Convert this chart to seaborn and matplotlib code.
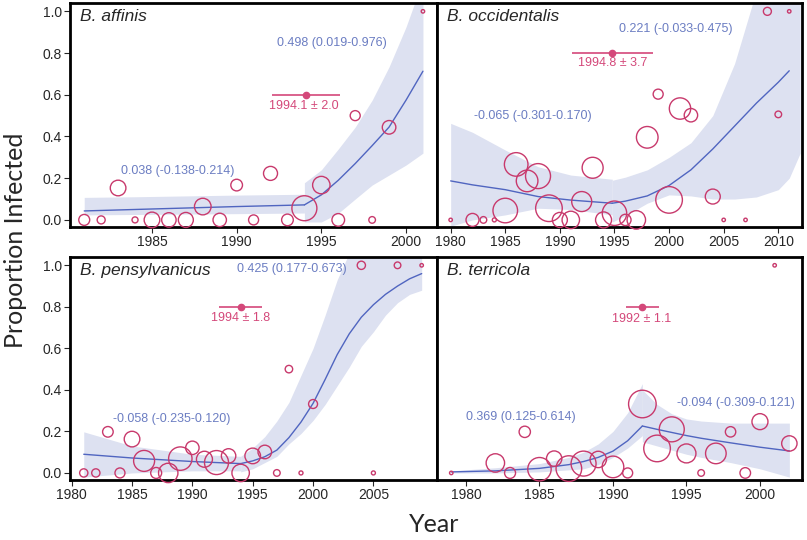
import matplotlib
matplotlib.use("Agg")
import matplotlib.pyplot as plt
import seaborn as sns
import pandas as pd

sns.set_style("ticks")
plt.rcParams['font.family'] = ['Liberation Sans', 'DejaVu Sans']

PINK = "#c8396c"
PINK_TXT = "#d4487a"
BLUE = "#5065c0"
BLUE_TXT = "#6b7dc2"
BAND = "#dde1f1"

# ---------------- B. affinis ----------------
aff_year = [1981, 1982, 1983, 1984, 1985, 1986, 1987, 1988, 1989, 1990, 1991, 1992, 1993,
            1994, 1995, 1996, 1997, 1998, 1999, 2001]
aff_prop = [0, 0, 0.153, 0, 0, 0, 0, 0.064, 0, 0.167, 0, 0.223, 0, 0.056, 0.167, 0, 0.5, 0,
            0.444, 1.0]
aff_n = [30, 16, 61, 9, 61, 52, 56, 69, 45, 34, 25, 49, 34, 156, 76, 40, 25, 11, 46, 3]
aff_l1_x = [1981, 1984, 1987, 1990, 1994]
aff_l1_y = [0.043, 0.050, 0.057, 0.064, 0.072]
aff_b1_lo = [0.024, 0.026, 0.028, 0.030, 0.033]
aff_b1_hi = [0.108, 0.111, 0.115, 0.119, 0.123]
aff_l2_x = [1994, 1995, 1996, 1997, 1998, 1999, 2000, 2001]
aff_l2_y = [0.072, 0.12, 0.19, 0.27, 0.356, 0.445, 0.574, 0.713]
aff_b2_lo = [-0.01, -0.01, 0.032, 0.10, 0.167, 0.215, 0.263, 0.32]
aff_b2_hi = [0.178, 0.24, 0.34, 0.445, 0.574, 0.734, 0.925, 1.15]
aff_slope1 = "0.038 (-0.138-0.214)"
aff_slope2 = "0.498 (0.019-0.976)"
aff_bp, aff_bp_sd = 1994.1, 2.0

# ---------------- B. occidentalis ----------------
occ_year = [1980, 1982, 1983, 1984, 1985, 1986, 1987, 1988, 1989, 1990, 1991, 1992, 1993,
            1994, 1995, 1996, 1997, 1998, 1999, 2000, 2001, 2002, 2004, 2005, 2007, 2009,
            2010, 2011]
occ_prop = [0, 0, 0, 0, 0.045, 0.266, 0.187, 0.21, 0.056, 0, 0, 0.088, 0.25, 0, 0.032, 0, 0,
            0.396, 0.603, 0.096, 0.534, 0.502, 0.112, 0, 0, 1.0, 0.506, 1.0]
occ_n = [3, 42, 11, 4, 151, 139, 117, 156, 177, 56, 76, 100, 110, 64, 149, 32, 85, 117, 25,
         177, 114, 45, 56, 3, 3, 16, 11, 3]
occ_l1_x = [1980, 1982, 1985, 1988, 1991, 1994.8]
occ_l1_y = [0.187, 0.168, 0.145, 0.112, 0.095, 0.080]
occ_b1_lo = [-0.03, 0.0, 0.024, 0.056, 0.05, 0.024]
occ_b1_hi = [0.463, 0.42, 0.335, 0.255, 0.215, 0.195]
occ_l2_x = [1994.8, 1996, 1998, 2000, 2002, 2004, 2006, 2008, 2010, 2011]
occ_l2_y = [0.080, 0.09, 0.115, 0.165, 0.24, 0.34, 0.45, 0.56, 0.66, 0.715]
occ_b2_x = [1994.8, 1996, 1998, 2000, 2002, 2004, 2006, 2008, 2010, 2011, 2012]
occ_b2_lo = [-0.01, 0.02, 0.08, 0.12, 0.115, 0.10, 0.10, 0.11, 0.145, 0.20, 0.32]
occ_b2_hi = [0.19, 0.205, 0.24, 0.30, 0.37, 0.50, 0.75, 1.1, 1.2, 1.2, 1.2]
occ_slope1 = "-0.065 (-0.301-0.170)"
occ_slope2 = "0.221 (-0.033-0.475)"
occ_bp, occ_bp_sd = 1994.8, 3.7

# ---------------- B. pensylvanicus ----------------
pen_year = [1981, 1982, 1983, 1984, 1985, 1986, 1987, 1988, 1989, 1990, 1991, 1992, 1993,
            1994, 1995, 1996, 1997, 1998, 1999, 2000, 2004, 2005, 2007, 2009]
pen_prop = [0, 0, 0.198, 0, 0.163, 0.058, 0, 0, 0.069, 0.121, 0.066, 0.05, 0.082, 0, 0.082,
            0.101, 0, 0.5, 0, 0.332, 1.0, 0, 1.0, 1.0]
pen_n = [17, 17, 28, 25, 61, 110, 30, 94, 137, 45, 64, 144, 52, 76, 61, 46, 11, 14, 4, 20,
         17, 4, 11, 3]
pen_l1_x = [1981, 1985, 1990, 1994]
pen_l1_y = [0.090, 0.072, 0.055, 0.045]
pen_b1_lo = [-0.02, 0.0, 0.01, 0.01]
pen_b1_hi = [0.198, 0.13, 0.09, 0.08]
pen_l2_x = [1994, 1995, 1996, 1997, 1998, 1999, 2000, 2001, 2002, 2003, 2004, 2005, 2006,
            2007, 2008, 2009]
pen_l2_y = [0.045, 0.058, 0.078, 0.11, 0.17, 0.245, 0.335, 0.45, 0.57, 0.67, 0.75, 0.81,
            0.86, 0.90, 0.935, 0.96]
pen_b2_lo = [0.005, 0.02, 0.05, 0.08, 0.14, 0.19, 0.253, 0.33, 0.42, 0.51, 0.61, 0.68, 0.76,
             0.82, 0.86, 0.88]
pen_b2_hi = [0.08, 0.12, 0.175, 0.25, 0.34, 0.47, 0.60, 0.76, 0.93, 1.06, 1.1, 1.1, 1.1,
             1.1, 1.1, 1.1]
pen_slope1 = "-0.058 (-0.235-0.120)"
pen_slope2 = "0.425 (0.177-0.673)"
pen_bp, pen_bp_sd = 1994, 1.8

# ---------------- B. terricola ----------------
ter_year = [1979, 1982, 1983, 1984, 1985, 1986, 1987, 1988, 1989, 1990, 1991, 1992, 1993,
            1994, 1995, 1996, 1997, 1998, 1999, 2000, 2001, 2002]
ter_prop = [0, 0.048, 0, 0.198, 0.018, 0.069, 0.021, 0.045, 0.065, 0.029, 0, 0.332, 0.118,
            0.21, 0.094, 0, 0.094, 0.198, 0, 0.247, 1.0, 0.142]
ter_n = [3, 85, 30, 32, 137, 59, 164, 156, 67, 117, 25, 190, 177, 156, 90, 11, 106, 27, 28,
         64, 3, 59]
ter_l1_x = [1979, 1982, 1985, 1987, 1988, 1989, 1990, 1991, 1992]
ter_l1_y = [0.005, 0.01, 0.022, 0.04, 0.055, 0.075, 0.105, 0.155, 0.226]
ter_b1_lo = [0.0, 0.0, 0.005, 0.015, 0.02, 0.04, 0.075, 0.12, 0.18]
ter_b1_hi = [0.01, 0.025, 0.045, 0.075, 0.10, 0.14, 0.20, 0.29, 0.43]
ter_l2_x = [1992, 1993, 1994, 1995, 1996, 1998, 2000, 2002]
ter_l2_y = [0.226, 0.21, 0.195, 0.18, 0.167, 0.145, 0.124, 0.106]
ter_b2_lo = [0.15, 0.13, 0.11, 0.09, 0.075, 0.05, 0.02, -0.02]
ter_b2_hi = [0.40, 0.33, 0.285, 0.26, 0.25, 0.24, 0.24, 0.24]
ter_slope1 = "0.369 (0.125-0.614)"
ter_slope2 = "-0.094 (-0.309-0.121)"
ter_bp, ter_bp_sd = 1992, 1.1

panels = [
    dict(name="B. affinis", year=aff_year, prop=aff_prop, n=aff_n,
         segs=[(aff_l1_x, aff_l1_y, aff_l1_x, aff_b1_lo, aff_b1_hi),
               (aff_l2_x, aff_l2_y, aff_l2_x, aff_b2_lo, aff_b2_hi)],
         s1=aff_slope1, s2=aff_slope2, bp=aff_bp, sd=aff_bp_sd, bpy=0.6,
         bplab=f"{aff_bp} ± {aff_bp_sd}",
         s1pos=(1986.5, 0.236), s2pos=(1995.65, 0.848), bplabpos=(1993.94, 0.545),
         xlim=(1980.16, 2001.83), xticks=[1985, 1990, 1995, 2000],
         rect=(70, 3, 437, 227)),
    dict(name="B. occidentalis", year=occ_year, prop=occ_prop, n=occ_n,
         segs=[(occ_l1_x, occ_l1_y, occ_l1_x, occ_b1_lo, occ_b1_hi),
               (occ_l2_x, occ_l2_y, occ_b2_x, occ_b2_lo, occ_b2_hi)],
         s1=occ_slope1, s2=occ_slope2, bp=occ_bp, sd=occ_bp_sd, bpy=0.8,
         bplab=f"{occ_bp} ± {occ_bp_sd}",
         s1pos=(1987.56, 0.499), s2pos=(2000.6, 0.913), bplabpos=(1994.8, 0.75),
         xlim=(1978.75, 2012.17), xticks=[1980, 1985, 1990, 1995, 2000, 2005, 2010],
         rect=(437, 3, 802, 227)),
    dict(name="B. pensylvanicus", year=pen_year, prop=pen_prop, n=pen_n,
         segs=[(pen_l1_x, pen_l1_y, pen_l1_x, pen_b1_lo, pen_b1_hi),
               (pen_l2_x, pen_l2_y, pen_l2_x, pen_b2_lo, pen_b2_hi)],
         s1=pen_slope1, s2=pen_slope2, bp=pen_bp, sd=pen_bp_sd, bpy=0.8,
         bplab=f"{pen_bp} ± {pen_bp_sd}",
         s1pos=(1988.3, 0.259), s2pos=(1998.2, 0.984), bplabpos=(1994.0, 0.746),
         xlim=(1979.86, 2010.27), xticks=[1980, 1985, 1990, 1995, 2000, 2005],
         rect=(70, 257, 437, 480)),
    dict(name="B. terricola", year=ter_year, prop=ter_prop, n=ter_n,
         segs=[(ter_l1_x, ter_l1_y, ter_l1_x, ter_b1_lo, ter_b1_hi),
               (ter_l2_x, ter_l2_y, ter_l2_x, ter_b2_lo, ter_b2_hi)],
         s1=ter_slope1, s2=ter_slope2, bp=ter_bp, sd=ter_bp_sd, bpy=0.8,
         bplab=f"{ter_bp} ± {ter_bp_sd}",
         s1pos=(1983.7, 0.27), s2pos=(1998.35, 0.335), bplabpos=(1991.95, 0.743),
         xlim=(1978.03, 2002.86), xticks=[1980, 1985, 1990, 1995, 2000],
         rect=(437, 257, 802, 480)),
]

W, H = 807, 540
fig = plt.figure(figsize=(W / 100, H / 100), dpi=100)

for i, p in enumerate(panels):
    l, t, r, b = p["rect"]
    ax = fig.add_axes([l / W, 1 - b / H, (r - l) / W, (b - t) / H])
    for lx, ly, bx, blo, bhi in p["segs"]:
        ax.fill_between(bx, blo, bhi, color=BAND, lw=0, zorder=0)
        sns.lineplot(x=lx, y=ly, color=BLUE, lw=1.0, ax=ax, zorder=2)
    df = pd.DataFrame({"year": p["year"], "prop": p["prop"], "n": p["n"]})
    sns.scatterplot(data=df, x="year", y="prop", size="n", sizes=(0, 200 * 2.0736),
                    size_norm=(0, 200), facecolor="none", edgecolor=PINK, linewidth=1.0,
                    legend=False, ax=ax, zorder=3, clip_on=False)
    ax.errorbar([p["bp"]], [p["bpy"]], xerr=[p["sd"]], fmt="o", color=PINK_TXT, ms=4.5,
                elinewidth=1.2, capsize=0, zorder=4)
    ax.text(*p["bplabpos"], p["bplab"], color=PINK_TXT, fontsize=9, ha="center", va="center")
    ax.text(*p["s1pos"], p["s1"], color=BLUE_TXT, fontsize=9, ha="center", va="center")
    ax.text(*p["s2pos"], p["s2"], color=BLUE_TXT, fontsize=9, ha="center", va="center")
    ax.text(0.027, 0.975, p["name"], transform=ax.transAxes, fontsize=12.5,
            style="italic", ha="left", va="top")
    ax.set_xlim(*p["xlim"])
    ax.set_ylim(-0.034, 1.04)
    ax.set_xticks(p["xticks"])
    ax.set_xticklabels([str(x) for x in p["xticks"]])
    ax.set_yticks([0, 0.2, 0.4, 0.6, 0.8, 1.0])
    ax.set_xlabel("")
    ax.set_ylabel("")
    for sp in ax.spines.values():
        sp.set_linewidth(2.0)
        sp.set_color("black")
    ax.tick_params(axis="both", direction="out", length=4, width=0.8, labelsize=10, pad=2)
    if i % 2 == 0:
        ax.set_yticklabels(["0.0", "0.2", "0.4", "0.6", "0.8", "1.0"])
    else:
        ax.tick_params(axis="y", left=False, labelleft=False)

fig.text(16 / W, 1 - 240 / H, "Proportion Infected", rotation=90, ha="center", va="center",
         fontsize=18, family=["Lato", "DejaVu Sans"])
fig.text(434 / W, 1 - 525 / H, "Year", ha="center", va="center", fontsize=18,
         family=["Lato", "DejaVu Sans"])

fig.savefig("out.png", dpi=100)
